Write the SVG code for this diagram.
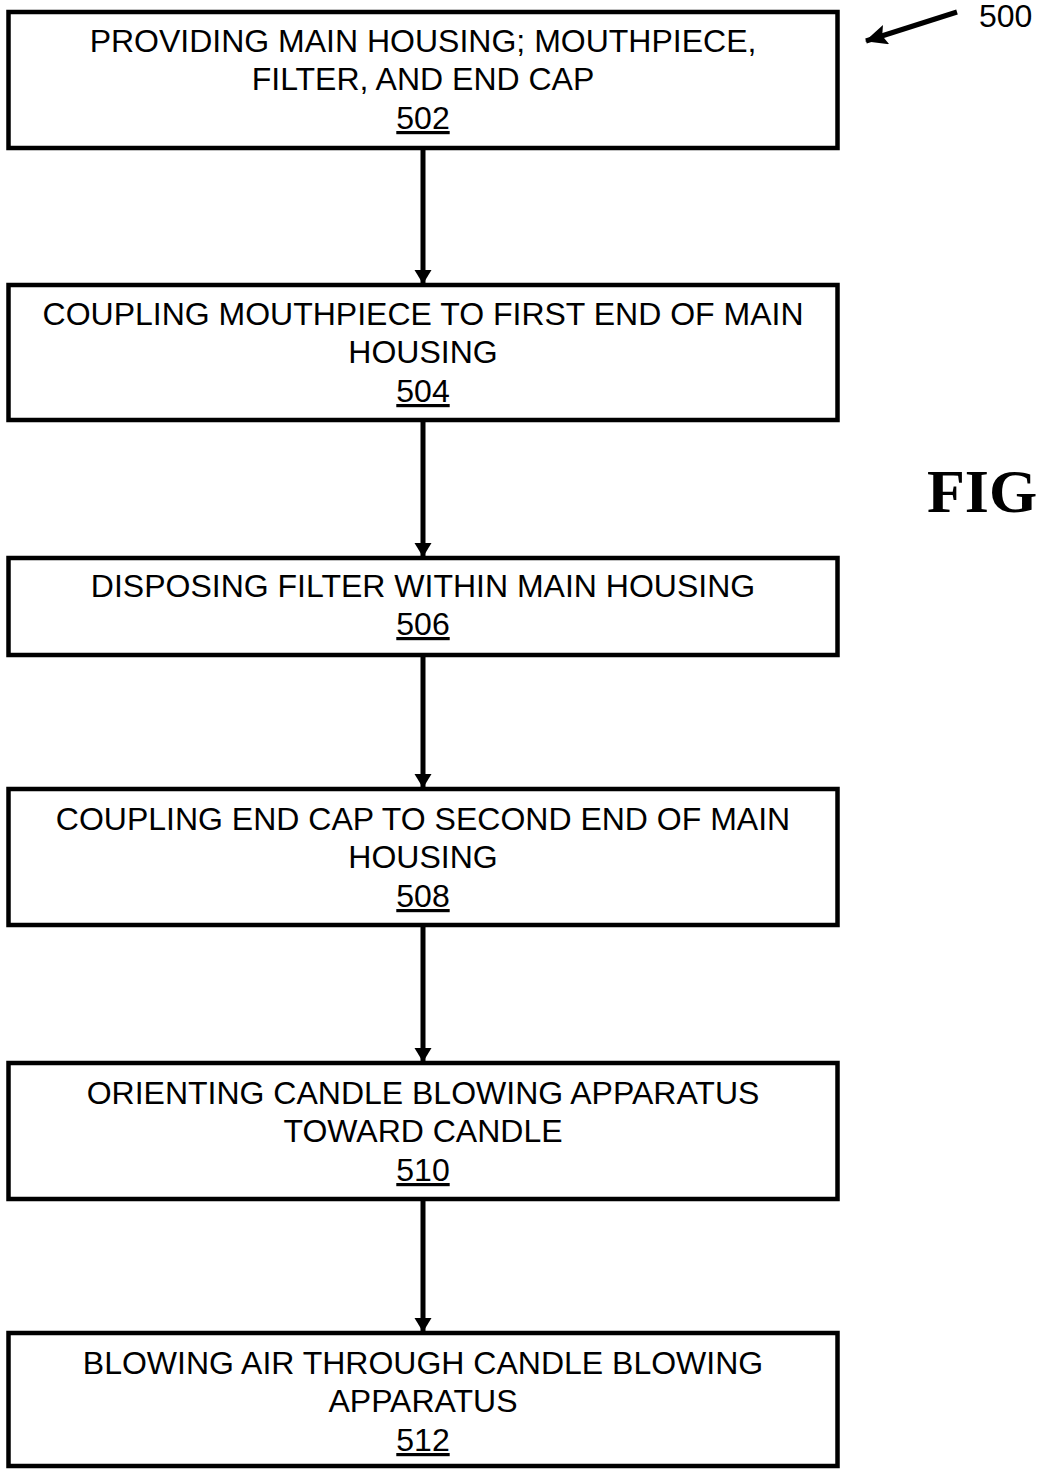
<svg xmlns="http://www.w3.org/2000/svg" width="1037" height="1469" viewBox="0 0 1037 1469">
<style>
.box{fill:#fff;stroke:#000;stroke-width:4.5}
.t{font-family:"Liberation Sans",Arial,sans-serif;font-size:32px;fill:#000;text-anchor:middle}
.n{text-decoration:underline}
.c{stroke:#000;stroke-width:5;fill:none}
</style>
<defs>
<marker id="ah" markerWidth="16" markerHeight="18" refX="14" refY="8.5" orient="auto" markerUnits="userSpaceOnUse">
<path d="M0,0 L14,8.5 L0,17 Z" fill="#000"/>
</marker>
<marker id="ah2" markerWidth="24" markerHeight="22" refX="21" refY="10" orient="auto" markerUnits="userSpaceOnUse">
<path d="M0,0 L22,10 L0,20 L4,10 Z" fill="#000"/>
</marker>
</defs>
<rect width="1037" height="1469" fill="#fff"/>
<g id="connectors">
<line class="c" x1="423" y1="148" x2="423" y2="284" marker-end="url(#ah)"/>
<line class="c" x1="423" y1="420" x2="423" y2="557" marker-end="url(#ah)"/>
<line class="c" x1="423" y1="655" x2="423" y2="788" marker-end="url(#ah)"/>
<line class="c" x1="423" y1="925" x2="423" y2="1062" marker-end="url(#ah)"/>
<line class="c" x1="423" y1="1199" x2="423" y2="1332" marker-end="url(#ah)"/>
<line class="c" stroke-width="5" x1="957" y1="12" x2="866" y2="41" marker-end="url(#ah2)"/>
</g>
<g id="n502">
<rect class="box" x="8.5" y="12" width="829" height="136"/>
<text class="t" x="423" y="52">PROVIDING MAIN HOUSING; MOUTHPIECE,</text>
<text class="t" x="423" y="90">FILTER, AND END CAP</text>
<text class="t n" x="423" y="129">502</text>
</g>
<g id="n504">
<rect class="box" x="8.5" y="285" width="829" height="135"/>
<text class="t" x="423" y="325">COUPLING MOUTHPIECE TO FIRST END OF MAIN</text>
<text class="t" x="423" y="363">HOUSING</text>
<text class="t n" x="423" y="402">504</text>
</g>
<g id="n506">
<rect class="box" x="8.5" y="558" width="829" height="97"/>
<text class="t" x="423" y="597">DISPOSING FILTER WITHIN MAIN HOUSING</text>
<text class="t n" x="423" y="635">506</text>
</g>
<g id="n508">
<rect class="box" x="8.5" y="789" width="829" height="136"/>
<text class="t" x="423" y="830">COUPLING END CAP TO SECOND END OF MAIN</text>
<text class="t" x="423" y="868">HOUSING</text>
<text class="t n" x="423" y="907">508</text>
</g>
<g id="n510">
<rect class="box" x="8.5" y="1063" width="829" height="136"/>
<text class="t" x="423" y="1104">ORIENTING CANDLE BLOWING APPARATUS</text>
<text class="t" x="423" y="1142">TOWARD CANDLE</text>
<text class="t n" x="423" y="1181">510</text>
</g>
<g id="n512">
<rect class="box" x="8.5" y="1333" width="829" height="133"/>
<text class="t" x="423" y="1374">BLOWING AIR THROUGH CANDLE BLOWING</text>
<text class="t" x="423" y="1412">APPARATUS</text>
<text class="t n" x="423" y="1451">512</text>
</g>
<g id="label500">
<text font-family="Liberation Sans,Arial,sans-serif" font-size="32" x="979" y="27">500</text>
</g>
<g id="fig">
<text font-family="Liberation Serif,'Times New Roman',serif" font-weight="bold" font-size="62" x="927" y="512">FIG</text>
</g>
</svg>
